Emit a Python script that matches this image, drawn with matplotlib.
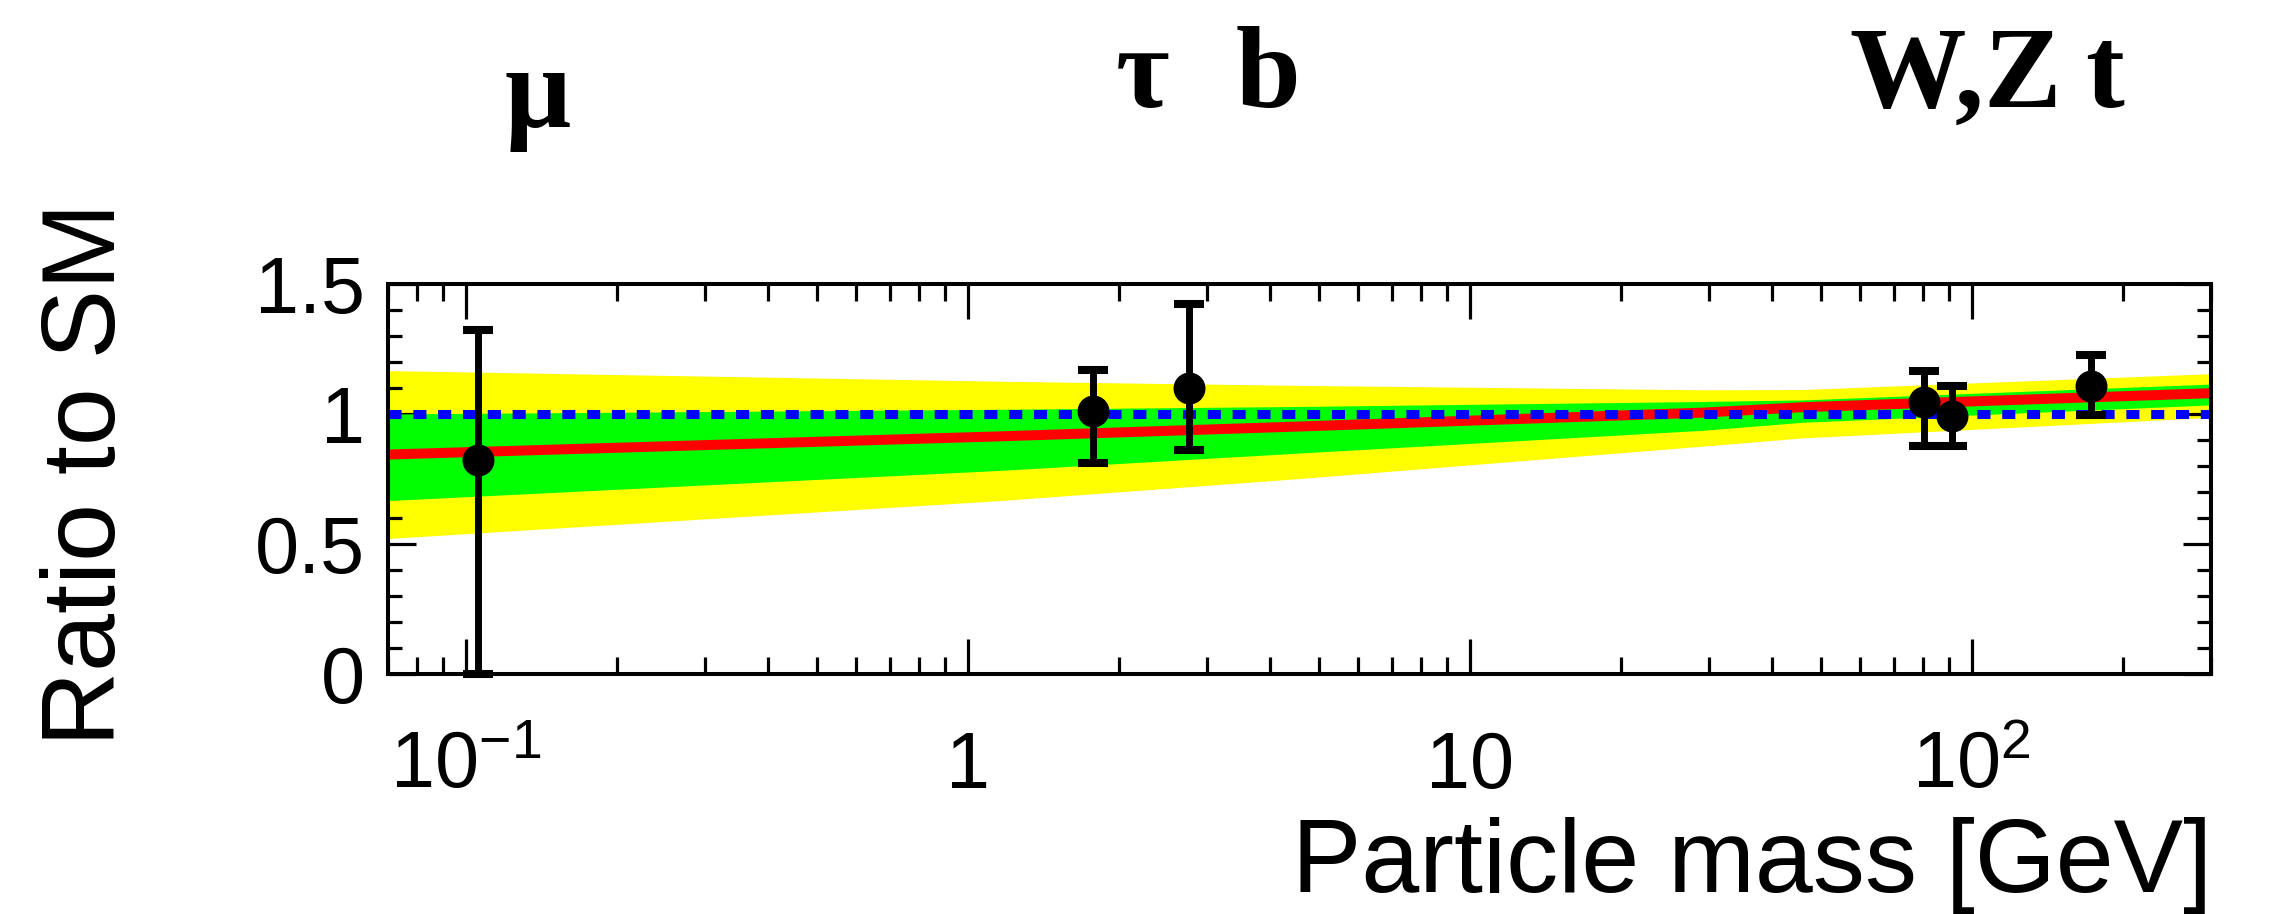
import matplotlib
matplotlib.use("Agg")
import matplotlib.pyplot as plt
from matplotlib.ticker import LogLocator, MultipleLocator, NullFormatter

# measured couplings, ratio to the SM expectation
MASSES = [0.1057, 1.777, 2.76, 80.4, 91.2, 173.0]
RATIO = [0.824, 1.011, 1.099, 1.045, 0.994, 1.106]
ERR_UP = [0.50, 0.16, 0.325, 0.12, 0.112, 0.119]
ERR_DOWN = [0.824, 0.199, 0.236, 0.169, 0.118, 0.108]

# fit result and its 68% / 95% bands, read at a few masses
BAND_MASS = [0.07, 1.16, 4.6, 29.0, 46.0, 300.0]
FIT = [0.844, 0.914, 0.952, 1.005, 1.026, 1.08]
GREEN_LO = [0.667, 0.783, 0.85, 0.937, 0.968, 1.035]
GREEN_HI = [1.0, 1.018, 1.029, 1.048, 1.054, 1.115]
YELLOW_LO = [0.521, 0.667, 0.752, 0.876, 0.908, 0.987]
YELLOW_HI = [1.167, 1.126, 1.110, 1.093, 1.094, 1.155]

SM_LINE = 1.0
X_TICKS = [0.1, 1, 10, 100]
X_LABELS = [r"$\mathregular{10^{-1}}$", "1", "10", r"$\mathregular{10^{2}}$"]
Y_TICKS = [0, 0.5, 1, 1.5]
Y_LABELS = ["0", "0.5", "1", "1.5"]

plt.rcParams["font.family"] = ["Liberation Sans", "DejaVu Sans"]
plt.rcParams["mathtext.fontset"] = "custom"
plt.rcParams["mathtext.rm"] = "Liberation Sans"

fig = plt.figure(figsize=(22.69, 9.14), dpi=100)
ax = fig.add_axes([0.1710, 0.2626, 0.8035, 0.4267])

ax.fill_between(BAND_MASS, YELLOW_LO, YELLOW_HI, color="#ffff00", lw=0, zorder=1)
ax.fill_between(BAND_MASS, GREEN_LO, GREEN_HI, color="#00ff00", lw=0, zorder=2)
ax.plot(BAND_MASS, FIT, color="#ff0000", lw=7.2, solid_capstyle="butt", zorder=3)
ax.axhline(SM_LINE, color="#0000ff", lw=6.5, ls=(0, (1.45, 1.3)), zorder=4)

ax.errorbar(MASSES, RATIO, yerr=[ERR_DOWN, ERR_UP], fmt="o", color="black",
            ms=22, elinewidth=5, capsize=10.8, capthick=5.8, zorder=5, clip_on=False)

ax.set_xscale("log")
ax.set_xlim(0.07, 300)
ax.set_ylim(0, 1.5)
ax.set_xticks(X_TICKS, labels=X_LABELS)
ax.xaxis.set_minor_locator(LogLocator(base=10, subs=range(2, 10)))
ax.xaxis.set_minor_formatter(NullFormatter())
ax.set_yticks(Y_TICKS, labels=Y_LABELS)
ax.yaxis.set_minor_locator(MultipleLocator(0.1))

for s in ax.spines.values():
    s.set_linewidth(2.9)
    s.set_zorder(10)
ax.tick_params(axis="both", which="both", direction="in", top=True, right=True,
               width=2.3, labelsize=57)
ax.tick_params(axis="x", which="major", length=25, pad=82)
ax.tick_params(axis="x", which="minor", length=12)
ax.tick_params(axis="y", which="major", length=20, pad=16.5)
ax.tick_params(axis="y", which="minor", length=10)
plt.setp(ax.get_xticklabels(), va="baseline")

fig.text(0.0392, 0.4814, "Ratio to SM", rotation=90, fontsize=75,
         ha="center", va="center")
fig.text(0.975, 0.024, "Particle mass [GeV]", fontsize=75,
         ha="right", va="baseline")

top_font = dict(family=["Liberation Serif", "DejaVu Serif"], fontweight="bold",
                fontsize=84, va="baseline", ha="center")
fig.text(0.2371, 0.861, "μ", **top_font)
fig.text(0.5037, 0.883, "τ", **top_font)
fig.text(0.5588, 0.883, "b", **top_font)
fig.text(0.8618, 0.883, "W,Z", **top_font)
fig.text(0.9275, 0.883, "t", **top_font)

fig.savefig("out.png", dpi=100)
